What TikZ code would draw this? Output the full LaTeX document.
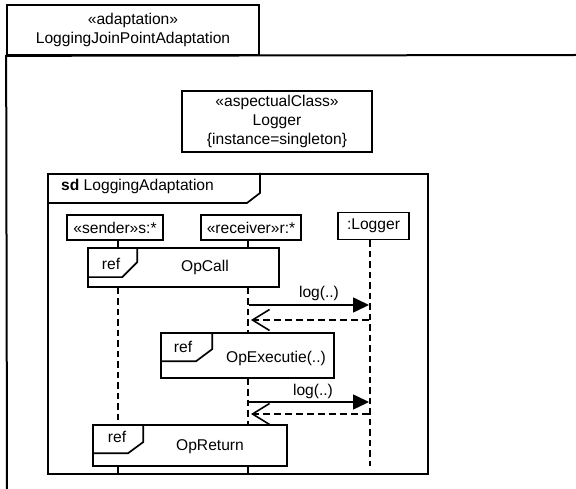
\documentclass[tikz,border=0pt]{standalone}
\usepackage{fontspec}
\setmainfont{Liberation Sans}
\usetikzlibrary{arrows.meta,calc}

\begin{document}
\begin{tikzpicture}[x=1pt,y=-1pt,
  every node/.style={font=\fontsize{15.6}{19}\selectfont, inner sep=0pt},
  frameline/.style={line width=2pt},
  boxline/.style={draw, line width=1.7pt, align=center},
  refbox/.style={draw, line width=1.7pt, fill=white},
  tabline/.style={line width=1.7pt},
  lifeline/.style={line width=1.6pt, dash pattern=on 6.5pt off 4pt},
  solidlife/.style={line width=1.6pt},
  callmsg/.style={line width=1.6pt, -{Triangle[length=16pt,width=15pt]}},
  replymsg/.style={line width=1.6pt, dash pattern=on 7pt off 4pt,
                   -{Straight Barb[length=17pt,width=21pt]}}
]
\useasboundingbox (0,0) rectangle (576,489);

% outer adaptation frame and its name tab
\coordinate (frameTR) at (576,55);
\coordinate (frameBL) at (7,489);
\node[boxline, minimum width=252pt, minimum height=50pt] (adapt) at (133,30)
  {«adaptation»\\LoggingJoinPointAdaptation};
\draw[frameline] (frameTR) -- (adapt.south west) -- (frameBL);

% aspectual class
\node[boxline, minimum width=190pt, minimum height=61pt] (logcls) at (277,121.5)
  {«aspectualClass»\\Logger\\\{instance=singleton\}};

% sequence diagram frame
\node[draw, frameline, minimum width=380pt, minimum height=300pt] (sd) at (238,324) {};
\draw[tabline] ($(sd.north west)+(0,30)$) -- ($(sd.north west)+(200,30)$)
  -- ($(sd.north west)+(213,20)$) -- ($(sd.north west)+(213,0)$);
\node[anchor=west] (sdlabel) at ($(sd.north west)+(14,13)$) {\textbf{sd} LoggingAdaptation};

% lifeline heads
\node[boxline, minimum width=96pt, minimum height=25pt] (snd) at (115,227.5) {«sender»s:*};
\node[boxline, minimum width=100pt, minimum height=25pt] (rcv) at (251,227.5) {«receiver»r:*};
\node[boxline, minimum width=71pt, minimum height=27pt] (lgr) at (373.5,226) {:Logger};

\coordinate (sx) at (118,0);
\coordinate (rx) at (248,0);
\coordinate (lx) at (370,0);

% interaction uses
\node[refbox, minimum width=191pt, minimum height=39pt] (opcall) at (183.5,267.5) {};
\node[refbox, minimum width=173pt, minimum height=45pt] (opexec) at (247.5,355.5) {};
\node[refbox, minimum width=194pt, minimum height=41pt] (opret) at (190,445.5) {};

\draw[tabline] ($(opcall.north west)+(0,30)$) -- ($(opcall.north west)+(35,30)$)
  -- ($(opcall.north west)+(50,15)$) -- ($(opcall.north west)+(50,0)$);
\draw[tabline] ($(opexec.north west)+(0,29)$) -- ($(opexec.north west)+(36,29)$)
  -- ($(opexec.north west)+(52,17)$) -- ($(opexec.north west)+(52,0)$);
\draw[tabline] ($(opret.north west)+(0,29)$) -- ($(opret.north west)+(36,29)$)
  -- ($(opret.north west)+(51,18)$) -- ($(opret.north west)+(51,0)$);

\node (ref1) at (111,264) {ref};
\node (opcalltxt) at (205,267) {OpCall};
\node (ref2) at (183,347) {ref};
\node (opexectxt) at (276,358) {OpExecutie(..)};
\node (ref3) at (117,437) {ref};
\node (opreturntxt) at (210,447) {OpReturn};

% lifelines
\draw[solidlife] (snd.south -| sx) -- (opcall.north -| sx);
\draw[lifeline] (opcall.south -| sx) -- (opret.north -| sx);
\draw[solidlife] (opret.south -| sx) -- (sd.south -| sx);

\draw[solidlife] (rcv.south -| rx) -- (opcall.north -| rx);
\draw[lifeline] (opcall.south -| rx) -- (opexec.north -| rx);
\draw[lifeline] (opexec.south -| rx) -- (opret.north -| rx);
\draw[solidlife] (opret.south -| rx) -- (sd.south -| rx);

\coordinate (lend) at (370,466);
\draw[lifeline] (lgr.south -| lx) -- (lend);

% messages
\coordinate (m1a) at (249,305);
\coordinate (m1b) at (369,305);
\coordinate (r1a) at (369,320);
\coordinate (r1b) at (251,320);
\coordinate (m2a) at (249,402);
\coordinate (m2b) at (369,402);
\coordinate (r2a) at (369,414);
\coordinate (r2b) at (251,414);

\draw[callmsg] (m1a) -- (m1b);
\draw[replymsg] (r1a) -- (r1b);
\draw[callmsg] (m2a) -- (m2b);
\draw[replymsg] (r2a) -- (r2b);

\node (log1) at (319,293) {log(..)};
\node (log2) at (313,391) {log(..)};
\end{tikzpicture}
\end{document}
